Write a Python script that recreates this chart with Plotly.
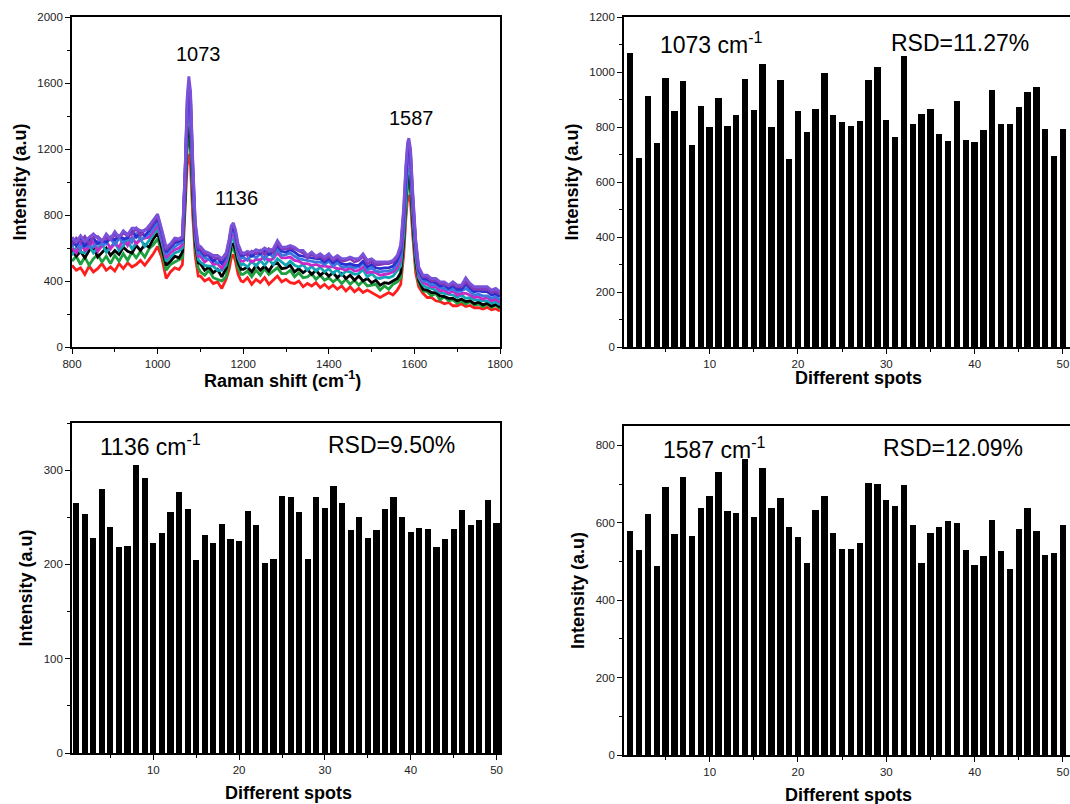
import plotly.graph_objects as go
from plotly.subplots import make_subplots

# ---------------- Data ----------------
# Raman shift grid (cm-1)
shift = (list(range(800, 1060, 10)) + [1058, 1064, 1069, 1073, 1077, 1082, 1088, 1095]
         + list(range(1100, 1170, 10)) + [1167, 1172, 1177, 1182, 1188, 1195]
         + list(range(1200, 1570, 10)) + [1568, 1575, 1580, 1584, 1587, 1591, 1596, 1603]
         + list(range(1610, 1810, 10)))

spec_red = [495,465,480,440,490,455,475,505,465,485,460,505,475,510,485,500,525,495,530,565,610,540,415,455,480,470,
            500,800,1100,1170,1100,800,550,430,
            430,400,415,385,395,355,410,
            470,540,560,520,440,400,
            395,420,380,410,390,420,380,405,430,395,410,390,385,400,365,385,370,390,360,380,
            355,375,350,370,340,365,335,355,330,345,330,320,300,315,330,315,345,
            380,560,780,900,920,880,680,450,
            365,325,300,300,280,275,262,270,250,250,262,245,252,238,238,230,240,225,232,218]
spec_green = [520,550,500,545,495,535,560,515,550,505,555,520,565,525,575,540,580,545,595,620,655,575,465,500,515,530,
              540,860,1200,1280,1200,880,600,480,
              455,435,465,420,410,400,425,
              510,585,600,560,480,440,
              440,460,425,465,435,475,440,460,480,445,445,465,425,450,420,425,445,410,435,405,
              420,395,415,385,410,380,405,375,400,370,375,380,345,370,350,380,395,
              420,610,840,970,1000,950,730,490,
              390,340,335,310,325,285,305,280,285,265,280,260,275,255,260,245,260,240,255,232]
spec_black = [590,550,580,540,585,605,545,575,600,555,585,560,605,580,570,615,585,620,605,655,690,600,495,520,550,540,
              575,900,1260,1340,1270,930,630,510,
              505,465,485,450,470,425,475,
              545,615,625,590,510,470,
              470,485,455,495,465,490,460,500,510,475,480,495,455,475,450,470,440,465,435,455,
              430,450,420,445,415,435,405,430,400,415,390,405,375,390,385,400,415,
              450,640,880,1010,1040,990,760,520,
              405,350,345,330,330,310,305,295,295,280,290,275,280,262,272,255,265,248,258,242]
spec_teal = [555,605,575,570,615,570,600,625,575,605,635,585,615,645,595,630,655,610,645,680,720,635,520,545,570,580,
             600,940,1320,1420,1340,980,660,530,
             515,495,490,490,465,465,495,
             570,645,660,620,540,495,
             505,485,520,490,525,495,530,500,535,515,495,520,495,485,500,465,490,460,485,455,
             475,445,470,435,460,455,440,445,470,425,445,420,415,425,420,430,460,
             490,680,920,1060,1090,1040,800,550,
             420,375,360,355,345,330,325,320,315,300,315,295,300,285,285,280,280,265,272,255]
spec_magenta = [600,570,625,585,605,640,580,615,645,595,630,605,655,615,665,625,650,660,665,700,740,650,540,570,590,600,
                620,970,1370,1480,1400,1020,680,550,
                550,515,535,500,505,475,520,
                595,670,690,645,565,520,
                520,535,515,530,530,545,525,535,570,540,540,545,525,520,505,505,495,500,490,490,
                485,485,475,475,465,480,460,465,485,450,455,450,435,440,445,455,480,
                530,730,980,1120,1150,1090,840,580,
                435,390,380,365,365,340,345,325,340,315,325,325,315,300,305,290,300,280,290,270]
spec_royal = [605,645,595,635,610,605,640,620,625,665,615,660,630,675,635,685,650,665,685,720,760,670,560,590,610,625,
              635,1000,1410,1530,1450,1060,700,570,
              565,540,530,525,510,510,535,
              615,690,710,665,585,540,
              545,525,560,540,565,530,570,545,595,555,560,570,550,535,530,525,520,515,515,500,
              520,490,510,485,485,490,480,485,510,465,480,460,455,460,460,470,505,
              555,770,1020,1160,1185,1125,870,600,
              450,400,400,375,380,360,355,345,350,335,340,355,335,315,320,310,310,295,305,285]
spec_blue = [645,615,660,605,650,660,625,645,635,660,650,675,655,660,705,665,695,675,705,745,780,690,575,605,630,640,
             650,1020,1440,1570,1490,1090,720,590,
             585,555,555,520,540,505,550,
             630,705,725,685,600,555,
             555,565,550,570,565,580,560,575,615,580,575,590,575,555,550,545,540,535,535,515,
             535,510,530,505,500,505,495,495,520,485,500,480,475,480,480,490,525,
             580,800,1050,1190,1215,1155,900,625,
             465,415,410,395,390,370,375,355,370,350,350,380,355,335,340,335,335,315,322,305]
spec_purple = [620,660,635,670,625,665,670,645,665,650,680,665,690,675,685,720,675,710,715,755,795,700,590,615,645,650,
               660,1040,1480,1610,1520,1120,740,600,
               595,565,565,545,535,530,555,
               640,720,740,700,610,565,
               570,555,580,565,585,560,595,570,630,595,595,600,595,580,570,540,565,540,555,530,
               550,525,545,520,525,535,515,525,550,505,520,500,500,505,505,515,545,
               600,825,1075,1215,1240,1180,925,640,
               475,425,425,400,405,385,380,370,380,365,365,395,370,350,350,350,350,330,340,320]
spec_violet = [665,635,675,640,665,685,660,640,685,655,700,665,705,680,720,720,705,705,735,770,805,710,605,625,660,655,
               670,1060,1510,1640,1550,1150,760,615,
               610,580,570,555,555,535,570,
               655,735,752,712,625,580,
               565,580,570,590,580,600,585,595,645,605,605,615,605,585,585,555,575,550,565,545,
               565,535,555,535,535,545,535,535,565,525,535,515,515,515,515,525,555,
               620,850,1100,1240,1265,1200,950,655,
               485,435,435,415,415,395,395,375,395,375,375,420,385,365,365,365,365,345,355,335]

spectra = [("#FF1E1E", spec_red), ("#1FA040", spec_green), ("#000000", spec_black), ("#11A5B5", spec_teal),
           ("#C828C8", spec_magenta), ("#3A78E0", spec_royal), ("#2A30D0", spec_blue),
           ("#8438B8", spec_purple), ("#7A52DA", spec_violet)]

peak_labels = ["1073", "1136", "1587"]
peak_label_x = [1096, 1185, 1594]
peak_label_y = [1776, 905, 1390]

spots = list(range(1, 51))
i1073 = [1070,689,914,743,977,857,968,734,875,799,906,802,843,975,861,1029,799,970,684,859,
         782,867,995,844,820,805,822,972,1017,827,763,1057,810,849,865,774,749,895,754,745,
         788,935,810,811,873,927,947,791,696,794]
i1136 = [265,254,228,280,240,218,220,305,292,223,233,256,277,259,205,231,223,243,227,225,
         257,242,201,206,273,271,256,206,271,260,283,265,237,250,228,237,259,272,250,234,
         239,238,219,227,238,258,242,247,268,244]
i1587 = [579,530,622,489,692,570,719,567,637,670,732,631,625,766,616,741,637,664,588,563,
         495,633,669,574,531,531,548,703,701,659,644,698,593,496,574,589,605,599,530,491,
         514,608,526,480,584,637,579,516,523,594]

bar_titles = ["1073 cm<sup>-1</sup>", "1136 cm<sup>-1</sup>", "1587 cm<sup>-1</sup>"]
rsd_texts = ["RSD=11.27%", "RSD=9.50%", "RSD=12.09%"]

x_titles = ["<b>Raman shift (cm<sup>-1</sup>)</b>", "<b>Different spots</b>",
            "<b>Different spots</b>", "<b>Different spots</b>"]
y_title = "<b>Intensity (a.u)</b>"

# ---------------- Figure ----------------
W, H = 1070, 804
fig = make_subplots(rows=2, cols=2)

for col, ys in spectra:
    fig.add_trace(go.Scatter(x=shift, y=ys, mode="lines", line=dict(color=col, width=2.8),
                             showlegend=False), row=1, col=1)

for ys, (r, c) in zip([i1073, i1136, i1587], [(1, 2), (2, 1), (2, 2)]):
    fig.add_trace(go.Bar(x=spots, y=ys, width=0.72, marker=dict(color="black", line=dict(width=0)),
                         showlegend=False), row=r, col=c)

def px_x(a, b):
    return [a / W, min(b / W, 1.0)]

def px_y(top, bottom):
    return [1 - bottom / H, 1 - top / H]

FONT = "Arial, Liberation Sans, sans-serif"
tickfont = dict(family=FONT, size=11.5, color="#222")
titlefont = dict(family=FONT, size=18, color="black")

common = dict(showline=True, linecolor="black", linewidth=1.6, mirror=True, ticks="outside",
              ticklen=5, tickwidth=1.3, tickcolor="black", showgrid=False, zeroline=False,
              tickfont=tickfont, automargin=False)

def minor(d):
    return dict(dtick=d, ticklen=3, tickcolor="black", tickwidth=1.2, ticks="outside")

ytitle = dict(text=y_title, font=titlefont, standoff=6)

# Panel 1
fig.update_xaxes(row=1, col=1, domain=px_x(72, 500), range=[800, 1800], dtick=200, tick0=800,
                 minor=minor(100), **common)
fig.update_yaxes(row=1, col=1, domain=px_y(17, 347), range=[0, 2000], dtick=400, tick0=0,
                 minor=minor(200), title=ytitle, **common)
# Panel 2
fig.update_xaxes(row=1, col=2, domain=px_x(624, 1070), range=[0.3, 50.8], dtick=10, tick0=0,
                 minor=minor(5), **common)
fig.update_yaxes(row=1, col=2, domain=px_y(17, 347), range=[0, 1200], dtick=200, tick0=0,
                 minor=minor(100), title=ytitle, **common)
# Panel 3
fig.update_xaxes(row=2, col=1, domain=px_x(72, 500), range=[0.53, 50.4], dtick=10, tick0=0,
                 minor=minor(5), **common)
fig.update_yaxes(row=2, col=1, domain=px_y(423, 753), range=[0, 350], dtick=100, tick0=0,
                 minor=minor(50), title=ytitle, **common)
# Panel 4
fig.update_xaxes(row=2, col=2, domain=px_x(624, 1070), range=[0.3, 50.8], dtick=10, tick0=0,
                 minor=minor(5), **common)
fig.update_yaxes(row=2, col=2, domain=px_y(426, 755), range=[0, 850], dtick=200, tick0=0,
                 minor=minor(100), title=ytitle, **common)

annots = []
for t, x, y in zip(peak_labels, peak_label_x, peak_label_y):
    annots.append(dict(x=x, y=y, xref="x", yref="y", text=t, showarrow=False,
                       font=dict(family=FONT, size=20, color="black")))

# bar-panel labels: (xref, yref, x of label, x of RSD, y)
bar_pos = [("x2", "y2", 10.2, 38.4, 1105), ("x3", "y3", 9.7, 37.8, 327), ("x4", "y4", 10.6, 37.6, 793)]
for (xr, yr, xl, xrsd, yy), ttl, rsd in zip(bar_pos, bar_titles, rsd_texts):
    annots.append(dict(x=xl, y=yy, xref=xr, yref=yr, text=ttl, showarrow=False,
                       font=dict(family=FONT, size=23, color="black")))
    annots.append(dict(x=xrsd, y=yy, xref=xr, yref=yr, text=rsd, showarrow=False,
                       font=dict(family=FONT, size=23, color="black")))

# x-axis titles (centre positions in page pixels)
xt_pos = [(282, 380), (858, 378), (288, 793), (848, 795)]
for t, (cx, cy) in zip(x_titles, xt_pos):
    annots.append(dict(x=cx / W, y=1 - cy / H, xref="paper", yref="paper", text=t, showarrow=False,
                       xanchor="center", yanchor="middle", font=titlefont))

fig.update_layout(width=W, height=H, margin=dict(l=0, r=0, t=0, b=0, autoexpand=False),
                  paper_bgcolor="white", plot_bgcolor="white", bargap=0,
                  annotations=annots, showlegend=False)

# place the fixed-size figure at the top-left corner of the page
fig.write_html("out.html", config={"displayModeBar": False},
               post_script="document.body.style.margin='0';document.body.style.padding='0';")
